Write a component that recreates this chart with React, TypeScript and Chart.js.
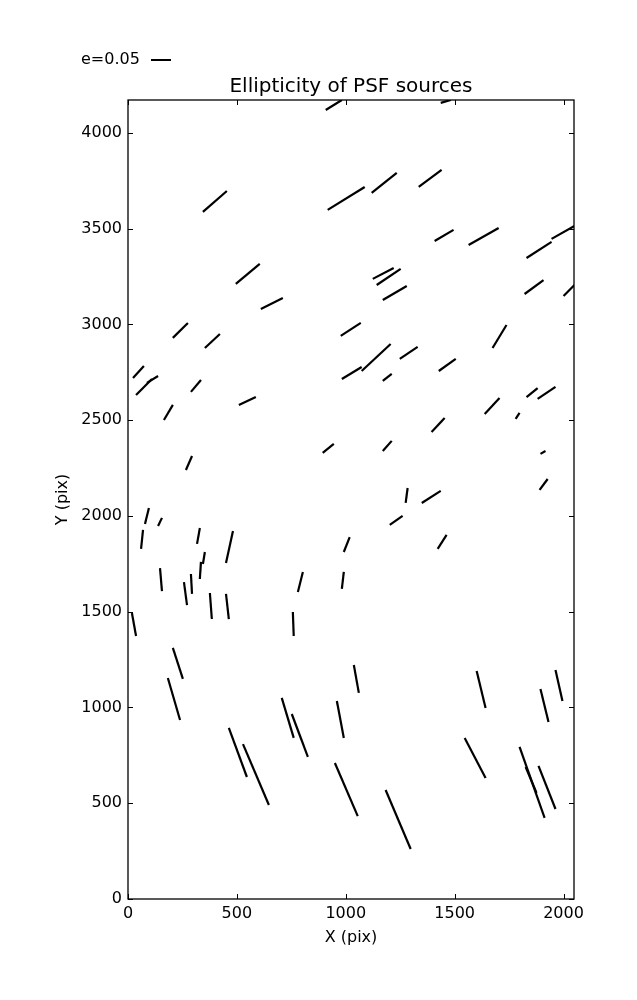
import React, { useEffect, useRef } from "react";
import { Chart, registerables } from "chart.js";

Chart.register(...registerables);

// Whisker start / end points (pixel coordinates of the detector)
const X_START = [908, 1436, 344, 917, 1119, 1335, 1408, 1564, 1830, 1945, 495, 610, 1124, 1142, 1170, 1821, 2000, 206, 353, 23, 37, 87, 165, 289, 509, 266, 977, 982, 1073, 1170, 1248, 1427, 1674, 1638, 1780, 1830, 1881, 1394, 1170, 1894, 1890, 1275, 1349, 1202, 1422, 894, 78, 138, 60, 317, 344, 450, 147, 257, 289, 330, 376, 450, 18, 206, 183, 780, 757, 982, 991, 1037, 1601, 1894, 1963, 706, 752, 959, 463, 528, 950, 1183, 1546, 1798, 1826, 1885];
const Y_START = [4120, 4157, 3588, 3598, 3687, 3718, 3436, 3415, 3347, 3447, 3212, 3081, 3238, 3206, 3128, 3159, 3149, 2930, 2877, 2721, 2632, 2695, 2501, 2648, 2580, 2240, 2940, 2715, 2757, 2705, 2820, 2757, 2877, 2533, 2507, 2621, 2611, 2439, 2339, 2324, 2136, 2068, 2068, 1953, 1828, 2329, 1958, 1948, 1828, 1854, 1749, 1755, 1728, 1655, 1697, 1671, 1598, 1593, 1493, 1311, 1154, 1603, 1499, 1619, 1812, 1222, 1191, 1097, 1196, 1050, 966, 1034, 893, 809, 710, 569, 841, 794, 689, 695];
const X_END = [982, 1482, 454, 1087, 1234, 1440, 1495, 1702, 1945, 2050, 605, 711, 1220, 1252, 1280, 1908, 2050, 275, 422, 73, 110, 138, 206, 335, 587, 294, 1069, 1073, 1206, 1211, 1330, 1505, 1738, 1706, 1798, 1881, 1963, 1454, 1211, 1917, 1927, 1284, 1436, 1261, 1463, 945, 96, 156, 69, 330, 353, 482, 156, 271, 294, 335, 385, 463, 37, 252, 239, 803, 761, 991, 1018, 1060, 1642, 1931, 1995, 761, 826, 991, 546, 647, 1055, 1298, 1642, 1913, 1876, 1963];
const Y_END = [4172, 4172, 3697, 3718, 3791, 3807, 3494, 3504, 3431, 3514, 3316, 3138, 3295, 3290, 3201, 3232, 3206, 3008, 2950, 2783, 2715, 2731, 2580, 2710, 2621, 2313, 3008, 2778, 2898, 2742, 2883, 2820, 2997, 2616, 2538, 2668, 2674, 2512, 2392, 2339, 2193, 2146, 2131, 2000, 1901, 2376, 2042, 1990, 1927, 1937, 1812, 1922, 1608, 1535, 1593, 1760, 1462, 1462, 1373, 1149, 935, 1708, 1373, 1708, 1890, 1076, 997, 924, 1034, 841, 742, 841, 637, 491, 433, 261, 632, 423, 554, 470];

const X_TICKS = [0, 500, 1000, 1500, 2000];
const Y_TICKS = [0, 500, 1000, 1500, 2000, 2500, 3000, 3500, 4000];
const X_MAX = 2048;
const Y_MAX = 4172;

const TITLE = "Ellipticity of PSF sources";
const X_LABEL = "X (pix)";
const Y_LABEL = "Y (pix)";
const KEY_LABEL = "e=0.05";

const FONT = "'DejaVu Sans', sans-serif";

const framePlugin = {
  id: "frameAndTicks",
  afterDraw(chart: any) {
    const ctx = chart.ctx;
    const { left, right, top, bottom } = chart.chartArea;
    const xs = chart.scales.x;
    const ys = chart.scales.y;
    const TL = 5;
    ctx.save();
    ctx.strokeStyle = "#000";
    ctx.lineWidth = 1;
    ctx.beginPath();
    for (const v of X_TICKS) {
      const p = Math.round(xs.getPixelForValue(v)) + 0.5;
      ctx.moveTo(p, bottom);
      ctx.lineTo(p, bottom - TL);
      ctx.moveTo(p, top);
      ctx.lineTo(p, top + TL);
    }
    for (const v of Y_TICKS) {
      const p = Math.round(ys.getPixelForValue(v)) + 0.5;
      ctx.moveTo(left, p);
      ctx.lineTo(left + TL, p);
      ctx.moveTo(right, p);
      ctx.lineTo(right - TL, p);
    }
    ctx.stroke();
    ctx.lineWidth = 1.3;
    ctx.strokeRect(left, top, right - left, bottom - top);

    ctx.fillStyle = "#000";
    ctx.textAlign = "center";
    ctx.textBaseline = "middle";
    ctx.font = `20px ${FONT}`;
    ctx.fillText(TITLE, (left + right) / 2, 87);
    ctx.font = `16px ${FONT}`;
    ctx.fillText(X_LABEL, (left + right) / 2, 938);
    ctx.save();
    ctx.translate(63, (top + bottom) / 2);
    ctx.rotate(-Math.PI / 2);
    ctx.fillText(Y_LABEL, 0, 0);
    ctx.restore();

    // quiver key
    ctx.textAlign = "left";
    ctx.fillText(KEY_LABEL, 81, 60);
    ctx.lineWidth = 2;
    ctx.beginPath();
    ctx.moveTo(151, 60);
    ctx.lineTo(171, 60);
    ctx.stroke();
    ctx.restore();
  },
};

export default function App() {
  const ref = useRef<HTMLCanvasElement | null>(null);
  useEffect(() => {
    if (!ref.current) return;
    Chart.defaults.font.family = FONT;
    const datasets = X_START.map((x0, i) => ({
      data: [
        { x: x0, y: Y_START[i] },
        { x: X_END[i], y: Y_END[i] },
      ],
      showLine: true,
      borderColor: "#000",
      backgroundColor: "#000",
      borderWidth: 2.2,
      pointRadius: 0,
      pointHoverRadius: 0,
    }));
    const chart = new Chart(ref.current, {
      type: "scatter",
      data: { datasets },
      options: {
        responsive: false,
        animation: false,
        events: [],
        layout: { padding: { left: 0, right: 63, top: 100, bottom: 0 } },
        plugins: {
          legend: { display: false },
          tooltip: { enabled: false },
          title: { display: false },
        },
        scales: {
          x: {
            type: "linear",
            min: 0,
            max: X_MAX,
            grid: { display: false, drawTicks: false },
            border: { display: false },
            afterBuildTicks: (s: any) => {
              s.ticks = X_TICKS.map((v) => ({ value: v }));
            },
            afterFit: (s: any) => {
              s.height = 101;
            },
            ticks: {
              color: "#000",
              font: { size: 16, family: FONT },
              padding: 5,
              maxRotation: 0,
              callback: (v: any) => String(v),
            },
          },
          y: {
            type: "linear",
            min: 0,
            max: Y_MAX,
            grid: { display: false, drawTicks: false },
            border: { display: false },
            afterBuildTicks: (s: any) => {
              s.ticks = Y_TICKS.map((v) => ({ value: v }));
            },
            afterFit: (s: any) => {
              s.width = 128;
            },
            ticks: {
              color: "#000",
              font: { size: 16, family: FONT },
              padding: 6,
              callback: (v: any) => String(v),
            },
          },
        },
      },
      plugins: [framePlugin],
    });
    return () => chart.destroy();
  }, []);
  return (
    <div style={{ position: "absolute", left: 0, top: 0, width: 637, height: 1000, background: "#fff" }}>
      <canvas ref={ref} width={637} height={1000} style={{ display: "block" }} />
    </div>
  );
}
